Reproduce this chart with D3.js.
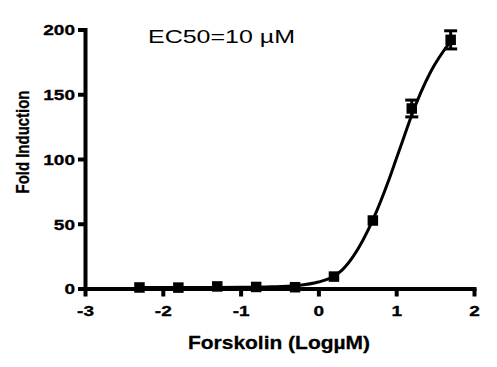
<!DOCTYPE html>
<html>
<head>
<meta charset="utf-8">
<script src="https://cdn.jsdelivr.net/npm/d3@7"></script>
<style>
  body { margin: 0; background: #fff; }
  svg { display: block; }
</style>
</head>
<body>
<script>
// measured points (log uM) and fold induction
const logConc = [-2.3, -1.8, -1.3, -0.8, -0.3, 0.2, 0.7, 1.2, 1.7];
const foldInduction = [0.8, 0.7, 1.6, 1.2, 1.0, 9.2, 52.5, 139, 192];
const sem = [0, 0, 0, 0, 0, 0, 0, 6.5, 7];

// fitted curve
const curveX = [-2.3, -1.5, -1.0, -0.6, -0.3, 0, 0.2, 0.3, 0.45, 0.7, 0.9, 1.0, 1.1, 1.2, 1.44, 1.7];
const curveY = [0.8, 0.8, 0.9, 1.3, 2.2, 5, 9.5, 14, 25, 53, 83, 100, 117, 134, 167, 191];

const xTicks = [-3, -2, -1, 0, 1, 2];
const yTicks = [0, 50, 100, 150, 200];

const width = 497, height = 367;

const x = d3.scaleLinear().domain([-3, 2]).range([85, 474]);
const y = d3.scaleLinear().domain([0, 200]).range([288.5, 29.5]);

const svg = d3.select("body").append("svg")
  .attr("width", width)
  .attr("height", height)
  .style("font-family", "'Liberation Sans', Arial, sans-serif");

const sx = 1.27; // tick labels are drawn wide

// y axis
const yAxis = svg.append("g")
  .attr("transform", `translate(${x(-3)},0)`)
  .call(d3.axisLeft(y).tickValues(yTicks).tickSize(7).tickSizeOuter(0)
    .tickFormat(d => String(d)));

// x axis
const xAxis = svg.append("g")
  .attr("transform", `translate(0,${y(0)})`)
  .call(d3.axisBottom(x).tickValues(xTicks).tickSize(8).tickSizeOuter(0)
    .tickFormat(d => String(d)));

[xAxis, yAxis].forEach(g => {
  g.select(".domain")
    .attr("stroke", "#000")
    .attr("stroke-width", 4)
    .attr("stroke-linecap", "square");
  g.selectAll(".tick line")
    .attr("stroke", "#000")
    .attr("stroke-width", 4);
  g.selectAll(".tick text")
    .attr("fill", "#000")
    .attr("stroke", "#000")
    .attr("stroke-width", 0.3)
    .style("font-size", "15px")
    .style("font-weight", "bold");
});

yAxis.selectAll(".tick text")
  .attr("x", -10 / sx)
  .attr("dy", "0.36em")
  .attr("transform", `scale(${sx},1)`);

xAxis.selectAll(".tick text")
  .attr("y", 28)
  .attr("dy", 0)
  .attr("transform", `scale(${sx},1)`);

// fitted curve
const line = d3.line()
  .x(d => x(d[0]))
  .y(d => y(d[1]))
  .curve(d3.curveMonotoneX);

svg.append("path")
  .datum(curveX.map((v, i) => [v, curveY[i]]))
  .attr("d", line)
  .attr("fill", "none")
  .attr("stroke", "#000")
  .attr("stroke-width", 3);

const pts = logConc.map((v, i) => ({ x: v, y: foldInduction[i], e: sem[i] }));

// error bars
const eb = svg.append("g").attr("stroke", "#000").attr("stroke-width", 3);
pts.filter(d => d.e > 0).forEach(d => {
  eb.append("line")
    .attr("x1", x(d.x)).attr("x2", x(d.x))
    .attr("y1", y(d.y + d.e)).attr("y2", y(d.y - d.e));
  [d.y + d.e, d.y - d.e].forEach(v => {
    eb.append("line")
      .attr("x1", x(d.x) - 6.5).attr("x2", x(d.x) + 6.5)
      .attr("y1", y(v)).attr("y2", y(v));
  });
});

// markers
const s = 10.5;
svg.append("g").selectAll("rect")
  .data(pts)
  .join("rect")
  .attr("x", d => x(d.x) - s / 2)
  .attr("y", d => y(d.y) - s / 2)
  .attr("width", s)
  .attr("height", s)
  .attr("fill", "#000");

// labels
svg.append("text")
  .attr("x", 148)
  .attr("y", 43)
  .attr("textLength", 147)
  .attr("lengthAdjust", "spacingAndGlyphs")
  .style("font-size", "19px")
  .text("EC50=10 \u00b5M");

svg.append("text")
  .attr("x", 188)
  .attr("y", 349)
  .attr("textLength", 182)
  .attr("lengthAdjust", "spacingAndGlyphs")
  .attr("stroke", "#000")
  .attr("stroke-width", 0.3)
  .style("font-size", "19px")
  .style("font-weight", "bold")
  .text("Forskolin (Log\u00b5M)");

svg.append("text")
  .attr("transform", "translate(29,142) rotate(-90)")
  .attr("text-anchor", "middle")
  .attr("textLength", 103)
  .attr("lengthAdjust", "spacingAndGlyphs")
  .attr("stroke", "#000")
  .attr("stroke-width", 0.3)
  .style("font-size", "17.5px")
  .style("font-weight", "bold")
  .text("Fold Induction");
</script>
</body>
</html>
